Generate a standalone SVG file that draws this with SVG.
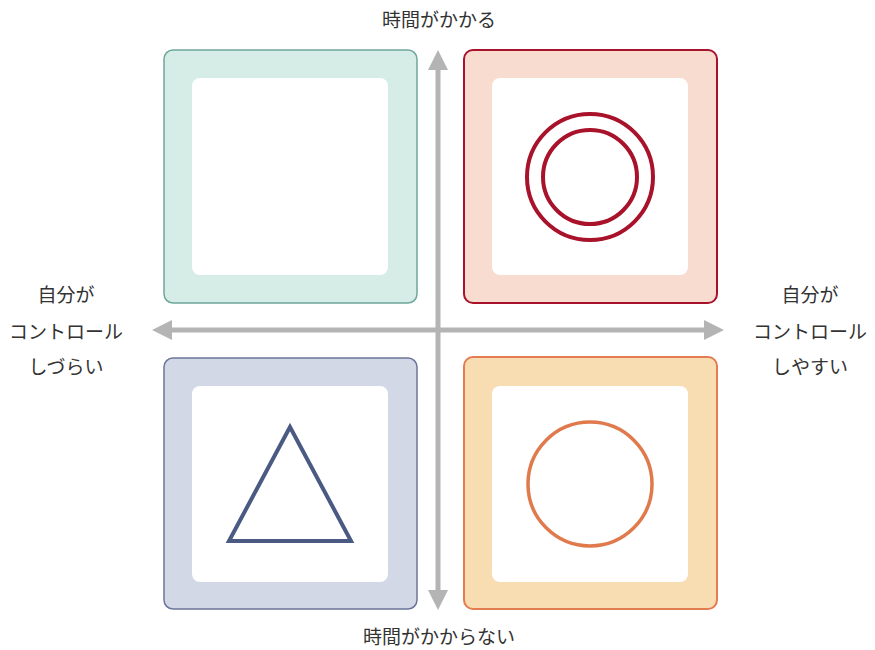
<svg xmlns="http://www.w3.org/2000/svg" width="875" height="650" viewBox="0 0 875 650">
<style>
text{font-family:"Noto Sans CJK JP","Noto Sans",sans-serif;font-size:19px;fill:#333;text-anchor:middle}
.inner{fill:#fff}
.axis{stroke:#b4b4b4;stroke-width:5;fill:none}
</style>
<defs>
<marker id="ah" viewBox="0 0 10 10" refX="5" refY="5" markerWidth="4" markerHeight="4" orient="auto-start-reverse" markerUnits="strokeWidth">
<path d="M0,0 L10,5 L0,10 Z" fill="#b4b4b4"/>
</marker>
</defs>
<rect width="875" height="650" fill="#fff"/>
<g id="connectors">
<line class="axis" x1="438" y1="60" x2="438" y2="600" marker-start="url(#ah)" marker-end="url(#ah)"/>
<line class="axis" x1="162" y1="330" x2="714" y2="330" marker-start="url(#ah)" marker-end="url(#ah)"/>
</g>
<g id="q-top-left">
<rect x="164" y="50" width="253" height="253" rx="9" fill="#d5ede6" stroke="#6fa79b" stroke-width="1.5"/>
<rect class="inner" x="192" y="78" width="196" height="197" rx="8"/>
</g>
<g id="q-top-right">
<rect x="464" y="50" width="253" height="253" rx="9" fill="#f7dccf" stroke="#a8122a" stroke-width="2"/>
<rect class="inner" x="492" y="78" width="196" height="197" rx="8"/>
<circle cx="590" cy="177" r="63" fill="none" stroke="#a8122a" stroke-width="4"/>
<circle cx="590" cy="177" r="47" fill="none" stroke="#a8122a" stroke-width="4"/>
</g>
<g id="q-bottom-left">
<rect x="164" y="358" width="253" height="251" rx="9" fill="#d3d8e6" stroke="#6b7599" stroke-width="1.5"/>
<rect class="inner" x="192" y="386" width="196" height="196" rx="8"/>
<polygon points="290,427 229,541 351,541" fill="none" stroke="#4a5a82" stroke-width="4"/>
</g>
<g id="q-bottom-right">
<rect x="464" y="357" width="253" height="252" rx="9" fill="#f8ddb2" stroke="#e47c52" stroke-width="2"/>
<rect class="inner" x="492" y="386" width="196" height="196" rx="8"/>
<circle cx="590" cy="484" r="62" fill="none" stroke="#e07a4c" stroke-width="3.5"/>
</g>
<g id="label-top"><text x="439" y="27">時間がかかる</text></g>
<g id="label-bottom"><text x="439" y="644">時間がかからない</text></g>
<g id="label-left">
<text x="66" y="302">自分が</text>
<text x="66" y="339">コントロール</text>
<text x="66" y="374">しづらい</text>
</g>
<g id="label-right">
<text x="810" y="302">自分が</text>
<text x="810" y="339">コントロール</text>
<text x="810" y="374">しやすい</text>
</g>
</svg>
